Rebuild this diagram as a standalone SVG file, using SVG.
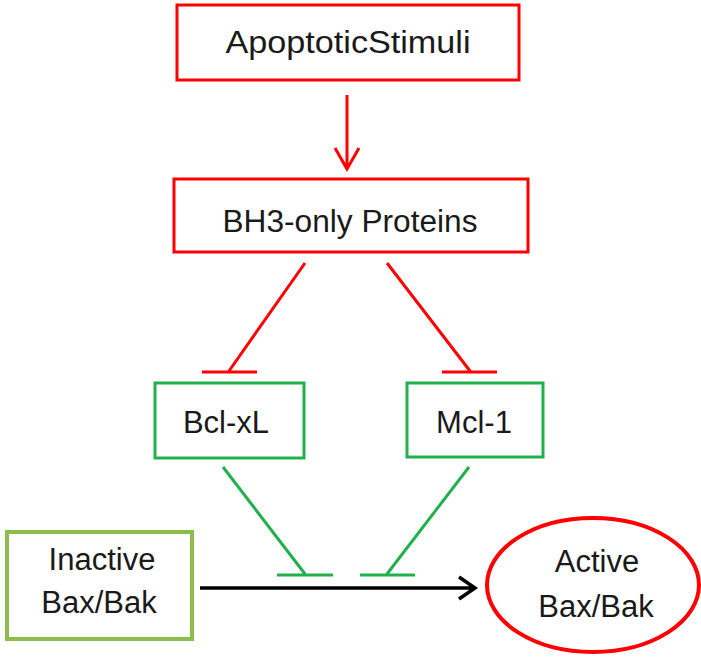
<svg xmlns="http://www.w3.org/2000/svg" width="701" height="658" viewBox="0 0 701 658">
<defs>
<style>
.t{font-family:"Liberation Sans","Open Sans",sans-serif;font-size:31px;fill:#1a1a1a;text-anchor:middle}
.rbox{fill:#fff;stroke:#ff0000;stroke-width:3}
.gbox{fill:#fff;stroke:#22b04e;stroke-width:3}
.obox{fill:#fff;stroke:#8cbc4a;stroke-width:4}
.rl{stroke:#ff0000;stroke-width:3;fill:none}
.gl{stroke:#22b04e;stroke-width:3;fill:none}
.bl{stroke:#000;stroke-width:3.5;fill:none}
</style>
</defs>
<rect width="701" height="658" fill="#fff"/>
<g id="connectors">
<path class="rl" d="M347 95 V169 M335 148 L347 169 L359 148"/>
<path class="rl" d="M305 263 L229 371 M202 372 H257"/>
<path class="rl" d="M387 263 L470 371 M442 372 H497"/>
<path class="gl" d="M223 467 L305 574 M277 575 H333"/>
<path class="gl" d="M469 467 L387 574 M360 575 H415"/>
<path class="bl" d="M200 588 H474 M459 577 L475 588 L459 599"/>
</g>
<g id="apoptotic-stimuli">
<rect class="rbox" x="177" y="5" width="342" height="75"/>
<text class="t" x="348" y="53" textLength="245" lengthAdjust="spacingAndGlyphs">ApoptoticStimuli</text>
</g>
<g id="bh3-only">
<rect class="rbox" x="174" y="179" width="354" height="73"/>
<text class="t" x="350" y="232" textLength="255" lengthAdjust="spacingAndGlyphs">BH3-only Proteins</text>
</g>
<g id="bcl-xl">
<rect class="gbox" x="155" y="383" width="149" height="75"/>
<text class="t" x="226" y="433">Bcl-xL</text>
</g>
<g id="mcl-1">
<rect class="gbox" x="407" y="383" width="136" height="74"/>
<text class="t" x="474" y="433">Mcl-1</text>
</g>
<g id="inactive-bax-bak">
<rect class="obox" x="7" y="532" width="185" height="107"/>
<text class="t" x="102" y="570">Inactive</text>
<text class="t" x="99" y="613">Bax/Bak</text>
</g>
<g id="active-bax-bak">
<ellipse cx="593" cy="585" rx="106" ry="67" fill="#fff" stroke="#ff0000" stroke-width="4"/>
<text class="t" x="597" y="572">Active</text>
<text class="t" x="596" y="617">Bax/Bak</text>
</g>
</svg>
